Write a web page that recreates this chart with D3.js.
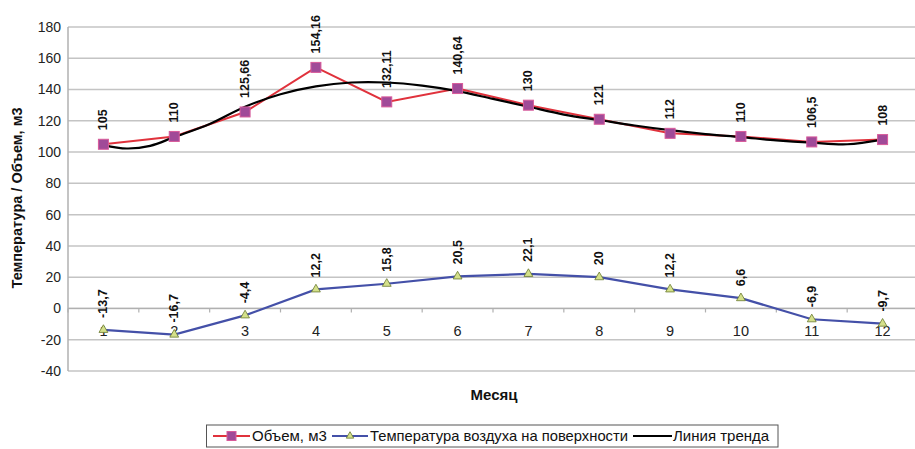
<!DOCTYPE html>
<html>
<head>
<meta charset="utf-8">
<script src="https://cdn.jsdelivr.net/npm/d3@7"></script>
<style>
body{margin:0;background:#fff;}
svg{font-family:"Liberation Sans",Arial,sans-serif;}
</style>
</head>
<body>
<div id="chart"></div>
<script>
var months = [1,2,3,4,5,6,7,8,9,10,11,12];
var volume = [105,110,125.66,154.16,132.11,140.64,130,121,112,110,106.5,108];
var volumeLabels = ["105","110","125,66","154,16","132,11","140,64","130","121","112","110","106,5","108"];
var temp = [-13.7,-16.7,-4.4,12.2,15.8,20.5,22.1,20,12.2,6.6,-6.9,-9.7];
var tempLabels = ["-13,7","-16,7","-4,4","12,2","15,8","20,5","22,1","20","12,2","6,6","-6,9","-9,7"];
// trend line (month, value)
var trendX = [1,1.33,1.66,2,2.5,3,3.5,4,4.5,5,5.5,6,6.5,7,7.5,8,8.5,9,9.5,10,10.5,11,11.5,12];
var trendY = [104.5,102.3,104,109.6,118,129,137,142,144.5,144.5,142.5,139,134,129,124,120.5,117,114,111.5,109.6,107.5,106,105,108];
var yTicks = [-40,-20,0,20,40,60,80,100,120,140,160,180];

var W = 915, H = 449;
var svg = d3.select("#chart").append("svg").attr("width", W).attr("height", H);

var x = d3.scaleLinear().domain([0.5,12.5]).range([68,918]);
var y = d3.scaleLinear().domain([-40,180]).range([371,27]);

// gridlines
svg.append("g").selectAll("line").data(yTicks).join("line")
  .attr("x1",68).attr("x2",W).attr("y1",d=>y(d)).attr("y2",d=>y(d))
  .attr("stroke","#c4c4c4").attr("stroke-width",1.5);

// left axis
svg.append("line").attr("x1",68).attr("x2",68).attr("y1",y(180)).attr("y2",y(-40))
  .attr("stroke","#b0b0b0").attr("stroke-width",1.5);
svg.append("g").selectAll("text").data(yTicks).join("text")
  .attr("x",61).attr("y",d=>y(d)).attr("dy","0.35em")
  .attr("text-anchor","end").attr("font-size",14).attr("fill","#222")
  .text(d=>d);

// category axis at zero
svg.append("line").attr("x1",68).attr("x2",W).attr("y1",y(0)).attr("y2",y(0))
  .attr("stroke","#b0b0b0").attr("stroke-width",1.2);
svg.append("g").selectAll("line").data(d3.range(0.5,13,1)).join("line")
  .attr("x1",d=>x(d)).attr("x2",d=>x(d)).attr("y1",y(0)).attr("y2",y(0)+4)
  .attr("stroke","#b0b0b0").attr("stroke-width",1.2);
svg.append("g").selectAll("text").data(months).join("text")
  .attr("x",d=>x(d)).attr("y",y(0)+28).attr("text-anchor","middle")
  .attr("font-size",14.5).attr("fill","#222").text(d=>d);

// axis titles
svg.append("text").attr("transform","translate(22,198) rotate(-90)")
  .attr("text-anchor","middle").attr("font-size",14.5).attr("font-weight","bold")
  .attr("fill","#111").text("Температура / Объем, м3");
svg.append("text").attr("x",494).attr("y",400).attr("text-anchor","middle")
  .attr("font-size",15).attr("font-weight","bold").attr("fill","#111").text("Месяц");

// volume line
svg.append("path").datum(months)
  .attr("d",d3.line().x(d=>x(d)).y((d,i)=>y(volume[i])))
  .attr("fill","none").attr("stroke","#e0323c").attr("stroke-width",2);

// temperature line
svg.append("path").datum(months)
  .attr("d",d3.line().x(d=>x(d)).y((d,i)=>y(temp[i])))
  .attr("fill","none").attr("stroke","#4450a8").attr("stroke-width",2.2);

// trend line
svg.append("path").datum(trendX)
  .attr("d",d3.line().curve(d3.curveCatmullRom).x(d=>x(d)).y((d,i)=>y(trendY[i])))
  .attr("fill","none").attr("stroke","#000").attr("stroke-width",2.2);

// volume markers
svg.append("g").selectAll("rect").data(months).join("rect")
  .attr("x",d=>x(d)-5).attr("y",(d,i)=>y(volume[i])-5)
  .attr("width",10).attr("height",10)
  .attr("fill","#a04a98").attr("stroke","#d85a9a").attr("stroke-width",1);

// temperature markers
var tri = d3.symbol().type(d3.symbolTriangle).size(34);
svg.append("g").selectAll("path").data(months).join("path")
  .attr("transform",(d,i)=>"translate("+x(d)+","+y(temp[i])+")")
  .attr("d",tri).attr("fill","#d4e08a").attr("stroke","#6a7a30").attr("stroke-width",0.8);

// data labels
svg.append("g").selectAll("text").data(months).join("text")
  .attr("transform",(d,i)=>"translate("+(x(d)+4)+","+(y(volume[i])-14)+") rotate(-90)")
  .attr("font-size",12.5).attr("font-weight","bold").attr("fill","#111")
  .text((d,i)=>volumeLabels[i]);
svg.append("g").selectAll("text").data(months).join("text")
  .attr("transform",(d,i)=>"translate("+(x(d)+4)+","+(y(temp[i])-12)+") rotate(-90)")
  .attr("font-size",12.5).attr("font-weight","bold").attr("fill","#111")
  .text((d,i)=>tempLabels[i]);

// legend
var lg = svg.append("g");
lg.append("rect").attr("x",206.5).attr("y",425).attr("width",571.5).attr("height",22)
  .attr("fill","#fff").attr("stroke","#555").attr("stroke-width",1);
var ly = 436;
lg.append("line").attr("x1",213).attr("x2",250).attr("y1",ly).attr("y2",ly).attr("stroke","#e0323c").attr("stroke-width",2);
lg.append("rect").attr("x",227).attr("y",ly-4.5).attr("width",9).attr("height",9).attr("fill","#a04a98").attr("stroke","#d85a9a");
lg.append("text").attr("x",252).attr("y",ly).attr("dy","0.35em").attr("font-size",15).attr("fill","#111").text("Объем, м3");
lg.append("line").attr("x1",332).attr("x2",368).attr("y1",ly).attr("y2",ly).attr("stroke","#4450a8").attr("stroke-width",2);
lg.append("path").attr("transform","translate(350,"+ly+")").attr("d",d3.symbol().type(d3.symbolTriangle).size(24))
  .attr("fill","#d4e08a").attr("stroke","#6a7a30").attr("stroke-width",0.8);
lg.append("text").attr("x",370).attr("y",ly).attr("dy","0.35em").attr("font-size",15).attr("fill","#111")
  .attr("textLength",258).attr("lengthAdjust","spacingAndGlyphs").text("Температура воздуха на поверхности");
lg.append("line").attr("x1",633).attr("x2",672).attr("y1",ly).attr("y2",ly).attr("stroke","#000").attr("stroke-width",2);
lg.append("text").attr("x",673).attr("y",ly).attr("dy","0.35em").attr("font-size",15).attr("fill","#111").text("Линия тренда");
</script>
</body>
</html>
